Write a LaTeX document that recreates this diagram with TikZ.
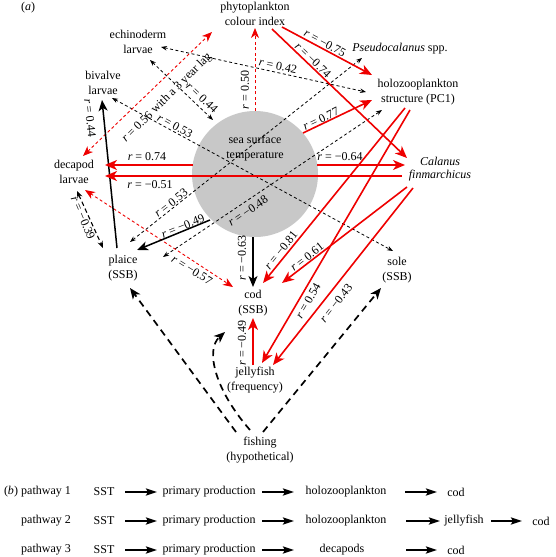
\documentclass[tikz,border=0pt]{standalone}
\usepackage{fontspec}
\setmainfont{Liberation Serif}
\usetikzlibrary{arrows.meta,calc}
\definecolor{sstgray}{RGB}{200,200,200}
\definecolor{myred}{RGB}{238,0,0}
\begin{document}
\begin{tikzpicture}[x=1pt,y=-1pt,
  every node/.style={font=\fontsize{12}{14.5}\selectfont, inner sep=1pt},
  box/.style={align=center},
  lab/.style={inner sep=0pt},
  bd/.style={draw=black, line width=0.8pt, dash pattern=on 3pt off 2.5pt,
    {Stealth[length=6pt,width=4.5pt]}-{Stealth[length=6pt,width=4.5pt]}},
  bdm/.style={draw=black, line width=1.1pt, dash pattern=on 4.5pt off 3pt,
    {Stealth[length=7pt,width=5.5pt]}-{Stealth[length=7pt,width=5.5pt]}},
  rd/.style={draw=myred, line width=0.9pt, dash pattern=on 3pt off 2.5pt,
    -{Stealth[length=10pt,width=8pt,inset=3pt]}},
  rdd/.style={draw=myred, line width=0.9pt, dash pattern=on 3pt off 2.5pt,
    {Stealth[length=10pt,width=8pt,inset=3pt]}-{Stealth[length=10pt,width=8pt,inset=3pt]}},
  rs/.style={draw=myred, line width=1.6pt, -{Stealth[length=12pt,width=10pt,inset=3.5pt]}},
  bs/.style={draw=black, line width=1.5pt, -{Stealth[length=11pt,width=9pt,inset=3pt]}},
  fd/.style={draw=black, line width=1.7pt, dash pattern=on 7pt off 5pt,
    -{Stealth[length=11pt,width=9pt,inset=3pt]}},
  parr/.style={draw=black, line width=2.4pt, -{Stealth[length=11pt,width=7pt,inset=2pt]}}
]
\useasboundingbox (0,0) rectangle (555,557);

% circle
\node[circle, fill=sstgray, minimum size=126pt, inner sep=0pt] (sst) at (255,174) {};

% nodes
\node (alab) at (28,8) {(\textit{a})};
\node[box] (phy) at (255,14) {phytoplankton\\colour index};
\node[box] (ech) at (138,42) {echinoderm\\larvae};
\node[box] (biv) at (103,83) {bivalve\\larvae};
\node[box] (dec) at (74,172) {decapod\\larvae};
\node[box] (pla) at (123,268) {plaice\\(SSB)};
\node[box] (cod) at (253,303) {cod\\(SSB)};
\node[box] (sole) at (397,270) {sole\\(SSB)};
\node[box] (jel) at (255,380) {jellyfish\\(frequency)};
\node[box] (fis) at (260,450) {fishing\\(hypothetical)};
\node (pse) at (400,49) {\textit{Pseudocalanus} spp.};
\node[box] (hol) at (418,92) {holozooplankton\\structure (PC1)};
\node[box, font=\fontsize{12}{12.5}\selectfont\itshape] (cal) at (440,169) {Calanus\\finmarchicus};

% black dashed double arrows
\draw[bd] ($(ech)+(12,18)$) -- ($(sst)+(-42,-54)$);
\draw[bd] ($(ech)+(23,5)$) -- ($(hol)+(-52,0)$);
\draw[bd] ($(biv)+(9,15)$) -- ($(sole)+(-4,-19)$);
\draw[bd] ($(pla)+(7,-26)$) -- ($(pse)+(-38,9)$);
\draw[bd] ($(pla)+(40,-11)$) -- ($(hol)+(-36,18)$);
\draw[bdm] ($(dec)+(3,19)$) -- ($(pla)+(-20,-20)$);

% red dashed
\draw[rdd] ($(dec)+(11,18)$) -- ($(cod)+(-20,-16)$);
\draw[rdd] ($(dec)+(9,-16)$) -- ($(phy)+(-43,18)$);
\draw[rd] (sst.north) -- ($(phy)+(0,14)$);

% black solid
\draw[bs] ($(pla)+(-6,-20)$) -- ($(biv)+(-1,17)$);
\draw[bs] ($(sst)+(-45,46)$) -- ($(pla)+(14,-18)$);
\draw[bs] ($(sst)+(-2,63)$) -- ($(cod)+(0,-16)$);

% red solid
\draw[rs] ($(sst)+(-62.4,-9)$) -- ($(dec)+(31,-7)$);
\draw[rs] ($(sst)+(62.4,-9)$) -- ($(cal)+(-35,-4)$);
\draw[rs] ($(cal)+(-38,7)$) -- ($(dec)+(31,4)$);
\draw[rs] ($(phy)+(27,13)$) -- ($(hol)+(-46,-17)$);
\draw[rs] ($(phy)+(17,15)$) -- ($(cal)+(-33,-11)$);
\draw[rs] ($(sst)+(48,-41)$) -- ($(hol)+(-46,8)$);
\draw[rs] ($(hol)+(-13,16)$) -- ($(cod)+(10,-20)$);
\draw[rs] ($(hol)+(-8,18)$) -- ($(jel)+(7,-17)$);
\draw[rs] ($(cal)+(-33,18)$) -- ($(cod)+(29,-20)$);
\draw[rs] ($(cal)+(-27,19)$) -- ($(jel)+(18,-15)$);
\draw[rs] ($(jel)+(-2,-15)$) -- ($(cod)+(0,15)$);

% fishing
\draw[fd] ($(fis)+(-24,-18)$) -- ($(pla)+(7,20)$);
\draw[fd] ($(fis)+(3,-18)$) -- ($(sole)+(-16,18)$);
\draw[fd] ($(fis)+(-10,-20)$) .. controls ($(fis)+(-45,-60)$) and ($(fis)+(-55,-100)$) .. ($(cod)+(-28,29)$);

% SST text
\node[box] (ssttxt) at (255,148) {sea surface\\temperature};

% labels
\node[lab, rotate=-43] (l1) at (202,98) {\textit{r} = 0.44};
\node[lab, rotate=-12] (l2) at (278,66) {\textit{r} = 0.42};
\node[lab, rotate=-29] (l3) at (175,126) {\textit{r} = 0.53};
\node[lab, rotate=38] (l4) at (171,203) {\textit{r} = 0.53};
\node[lab, rotate=34] (l5) at (248,211) {\textit{r} = −0.48};
\node[lab, rotate=-32] (l6) at (192,270) {\textit{r} = −0.57};
\node[lab, rotate=-67] (l7) at (83,218) {\textit{r} = −0.39};
\node[lab, rotate=45] (l8) at (167,98) {\textit{r} = 0.56 with a 3 year lag};
\node[lab, rotate=90] (l9) at (245,90) {\textit{r} = 0.50};
\node[lab, rotate=-84] (l10) at (90,118) {\textit{r} = 0.44};
\node[lab, rotate=22] (l11) at (183,226) {\textit{r} = −0.49};
\node[lab, rotate=90] (l12) at (242,258) {\textit{r} = −0.63};
\node[lab] (l13) at (147,157) {\textit{r} = 0.74};
\node[lab] (l14) at (340,157) {\textit{r} = −0.64};
\node[lab] (l15) at (150,185) {\textit{r} = −0.51};
\node[lab, rotate=-28] (l16) at (325,43) {\textit{r} = −0.75};
\node[lab, rotate=-44] (l17) at (313,60) {\textit{r} = −0.74};
\node[lab, rotate=26] (l18) at (321,119) {\textit{r} = 0.77};
\node[lab, rotate=51] (l19) at (281,250) {\textit{r} = −0.81};
\node[lab, rotate=60] (l20) at (308,301) {\textit{r} = 0.54};
\node[lab, rotate=38] (l21) at (307,257) {\textit{r} = 0.61};
\node[lab, rotate=52] (l22) at (336,303) {\textit{r} = −0.43};
\node[lab, rotate=90] (l23) at (242,343) {\textit{r} = −0.49};

% part (b)
\node (blab) at (11,492) {(\textit{b})};
\node (pw1) at (46,492) {pathway 1};
\node (pw2) at (46,521) {pathway 2};
\node (pw3) at (46,550) {pathway 3};

\node (s1) at (104,492) {SST};
\node (p1) at (209,492) {primary production};
\node (h1) at (346,492) {holozooplankton};
\node (c1) at (456,492) {cod};

\node (s2) at (104,521) {SST};
\node (p2) at (209,521) {primary production};
\node (h2) at (346,521) {holozooplankton};
\node (j2) at (464,521) {jellyfish};
\node (c2) at (541,521) {cod};

\node (s3) at (104,550) {SST};
\node (p3) at (209,550) {primary production};
\node (d3) at (342,550) {decapods};
\node (c3) at (456,550) {cod};

\draw[parr] ($(s1)+(21,0)$) -- ($(p1)+(-52,0)$);
\draw[parr] ($(p1)+(53,0)$) -- ($(h1)+(-52,0)$);
\draw[parr] ($(h1)+(59,0)$) -- ($(c1)+(-19,0)$);

\draw[parr] ($(s2)+(21,0)$) -- ($(p2)+(-52,0)$);
\draw[parr] ($(p2)+(53,0)$) -- ($(h2)+(-52,0)$);
\draw[parr] ($(h2)+(60,0)$) -- ($(j2)+(-24,0)$);
\draw[parr] ($(j2)+(27,0)$) -- ($(c2)+(-19,0)$);

\draw[parr] ($(s3)+(21,0)$) -- ($(p3)+(-52,0)$);
\draw[parr] ($(p3)+(53,0)$) -- ($(d3)+(-48,0)$);
\draw[parr] ($(d3)+(64,0)$) -- ($(c3)+(-19,0)$);
\end{tikzpicture}
\end{document}
